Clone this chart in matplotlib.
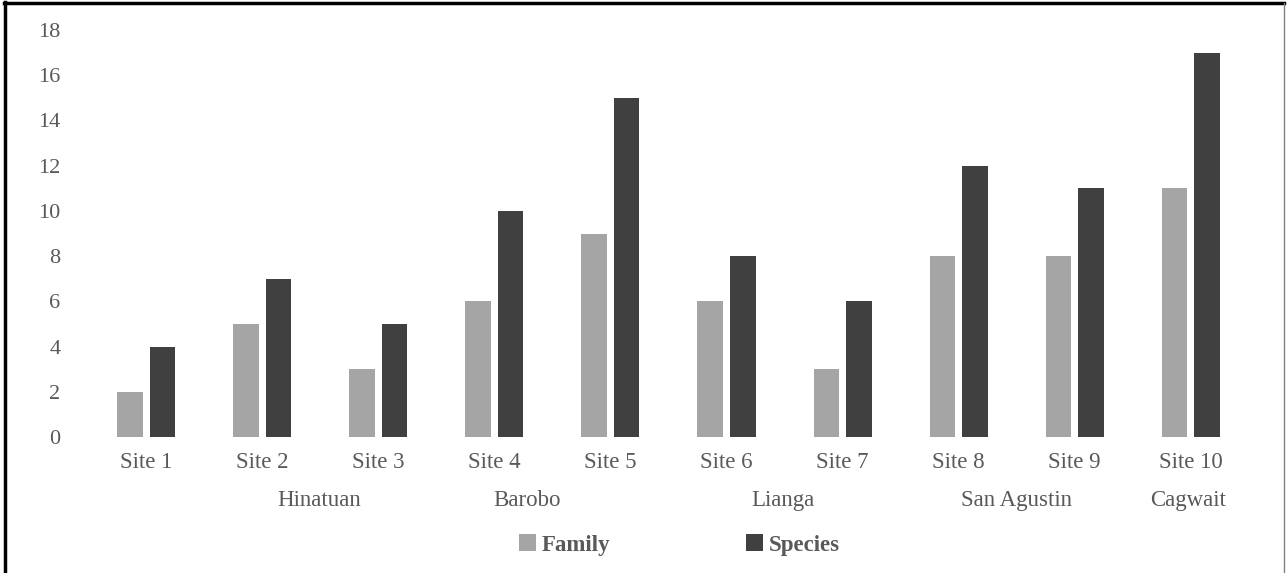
import matplotlib
matplotlib.use("Agg")
import matplotlib.pyplot as plt
from matplotlib.lines import Line2D
import numpy as np

sites = ['Site 1', 'Site 2', 'Site 3', 'Site 4', 'Site 5',
         'Site 6', 'Site 7', 'Site 8', 'Site 9', 'Site 10']
family = [2, 5, 3, 6, 9, 6, 3, 8, 8, 11]
species = [4, 7, 5, 10, 15, 8, 6, 12, 11, 17]
towns = ['Hinatuan', 'Barobo', 'Lianga', 'San Agustin', 'Cagwait']
town_pos = [1.49, 3.28, 5.49, 7.5, 8.98]
yticks = list(range(0, 20, 2))

plt.rcParams['font.family'] = ['Liberation Serif', 'DejaVu Serif']
txtcol = '#595959'
fs = 16.5

fig = plt.figure(figsize=(12.87, 5.73), dpi=100)
ax = fig.add_axes([0.0684, 0.2373, 0.902, 0.7103])

x = np.arange(len(sites))
w = 0.22
ax.bar(x - 0.14, family, width=w, color='#A5A5A5', label='Family')
ax.bar(x + 0.14, species, width=w, color='#404040', label='Species')

ax.set_xlim(-0.5, len(sites) - 0.5)
ax.set_ylim(0, 18)
ax.set_yticks(yticks)
ax.set_xticks(x)
ax.set_xticklabels(sites)
ax.tick_params(axis='both', length=0, labelcolor=txtcol)
ax.tick_params(axis='y', pad=20, labelsize=fs - 0.5)
ax.tick_params(axis='x', pad=11, labelsize=fs)
for side in ['top', 'bottom', 'left', 'right']:
    ax.spines[side].set_visible(False)

# second row of category labels
for name, pos in zip(towns, town_pos):
    ax.text(pos, -2.79, name, ha='center', va='center', fontsize=fs,
            color=txtcol, transform=ax.transData)

leg = fig.legend(loc='center', bbox_to_anchor=(0.528, 0.049), ncol=2, frameon=False,
                 handlelength=0.75, handleheight=0.75, handletextpad=0.25,
                 columnspacing=5.9, prop={'size': fs, 'weight': 'bold'})
for t in leg.get_texts():
    t.set_color(txtcol)

# outer frame: heavy black top/left, thin gray right
fig.add_artist(Line2D([0.004, 0.004], [0.0, 0.997], color='black', lw=2.5,
                      transform=fig.transFigure))
fig.add_artist(Line2D([0.003, 0.998], [0.995, 0.995], color='black', lw=2.5,
                      transform=fig.transFigure))
fig.add_artist(Line2D([0.9975, 0.9975], [0.0, 0.995], color='#808080', lw=1,
                      transform=fig.transFigure))

fig.savefig('out.png', dpi=100)
